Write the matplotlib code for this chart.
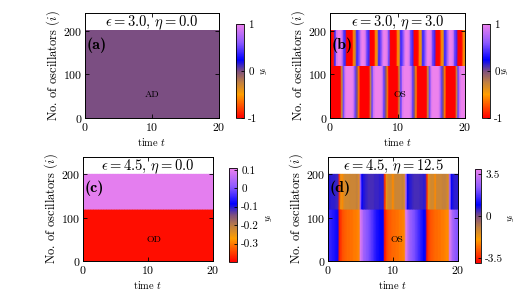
import numpy as np
import matplotlib
matplotlib.use("Agg")
import matplotlib.pyplot as plt
from matplotlib.colors import LinearSegmentedColormap, Normalize

plt.rcParams["font.family"] = "cmr10"
plt.rcParams["mathtext.fontset"] = "cm"
plt.rcParams["axes.unicode_minus"] = False
plt.rcParams["axes.formatter.use_mathtext"] = True

# time grid (step 0.25) and cluster boundaries
t = np.linspace(0, 20, 81)
split = 120
n_osc = 200

# (a) amplitude death: everything at 0
a_val = 0.0

# (b) two clusters oscillating
b_lower = [-1, -1, -1, -1, -1, -1, -1, -0.3,
           0.5, 0.9, 1, 1, 1, 1, 0.9, 0.5,
           0, -0.6, -1, -1, -1, -1, -1, -1,
           -0.3, 0.5, 0.9, 1, 1, 1, 1, 0.9,
           0.5, 0, -0.6, -1, -1, -1, -1, -1,
           -1, -0.3, 0.5, 0.9, 1, 1, 1, 1,
           0.9, 0.5, 0, -0.6, -1, -1, -1, -1,
           -1, -1, -0.3, 0.5, 0.9, 1, 1, 1,
           1, 0.9, 0.5, 0, -0.6, -1, -1, -1,
           -1, -1, -1, -0.3, 0.5, 0.9, 1, 1,
           1]
b_upper = [-1, -1, -0.9, 0.4, 0.9, 1, 1, 0.9,
           0.5, 0.4, -1, -1, -1, -1, -0.6, -0.3,
           0.4, 0.5, 0.8, 1, 1, 0.9, 0.5, 0.4,
           -1, -1, -1, -0.6, -0.4, 0.4, 0.5, 0.8,
           1, 1, 0.9, 0.5, -1, -1, -1, -1,
           -0.6, -0.4, 0.4, 0.5, 0.8, 1, 1, 0.9,
           0.5, 0.4, -1, -1, -1, -0.6, -0.4, 0.4,
           0.5, 0.8, 1, 1, 0.9, 0.5, 0.4, -1,
           -1, -1, -0.6, -0.4, 0.4, 0.5, 0.8, 1,
           1, 0.9, 0.5, 0.4, -1, -1, -1, -0.6,
           -0.4]

# (c) oscillation death: two fixed branches
c_lower = -0.39
c_upper = 0.1

# (d) two clusters, large amplitude
d_lower = [1.6, 1.5, 1.4, 1.3, 1.2, 1.1, 1.0, -3.6,
           -3.2, -2.9, -2.8, -2.7, -2.6, -2.6, -2.5, -2.5,
           -2.4, -2.4, -2.3, -2.2, 3.6, 3.2, 2.7, 2.5,
           2.3, 2.2, 2.0, 1.8, 1.6, 1.4, 1.2, 1.1,
           1.0, 0.9, 0.9, -3.6, -3.2, -2.9, -2.8, -2.7,
           -2.6, -2.6, -2.5, -2.5, -2.4, -2.4, -2.3, -2.2,
           3.6, 3.2, 2.7, 2.5, 2.3, 2.2, 2.0, 1.8,
           1.6, 1.4, 1.2, 1.0, 0.9, -3.6, -3.2, -2.9,
           -2.8, -2.7, -2.6, -2.6, -2.5, -2.5, -2.4, -2.4,
           -2.3, -2.2, -2.2, 3.6, 3.2, 2.7, 2.5, 2.3,
           2.2]
d_upper = [0.7, 0.7, 0.6, 0.6, 0.6, 0.5, 0.5, -3.3,
           -1.6, -2.2, -1.3, -1.2, -1.2, -1.2, -1.1, -1.1,
           -1.1, -1.1, -1.0, -1.4, 2.8, 0.9, 0.7, 0.6,
           0.5, 0.4, 0.4, 0.4, 0.4, 0.5, 0.5, 0.5,
           0.6, 0.6, 0.6, -3.3, -1.6, -1.3, -1.2, -1.2,
           -2.2, -1.2, -1.1, -1.1, -1.1, -1.1, -1.0, -1.4,
           2.8, 0.9, 0.7, 0.6, 0.5, 0.4, 0.4, 0.4,
           0.4, 0.5, 0.5, 0.6, 0.6, -3.3, -1.6, -1.3,
           -1.2, -1.2, -2.2, -1.1, -1.1, -1.1, -1.1, -1.0,
           -1.0, -1.1, -1.4, 2.8, 0.9, 0.7, 0.6, 0.6,
           0.6]

titles = [r"$\epsilon = 3.0,\, \eta = 0.0$", r"$\epsilon = 3.0,\, \eta = 3.0$",
          r"$\epsilon = 4.5,\, \eta = 0.0$", r"$\epsilon = 4.5,\, \eta = 12.5$"]
tags = ["(a)", "(b)", "(c)", "(d)"]
states = ["AD", "OS", "OD", "OS"]
cb_ranges = [(-1, 1), (-1, 1), (-0.4, 0.11), (-3.9, 3.9)]
cb_ticks = [[-1, 0, 1], [-1, 0, 1], [-0.3, -0.2, -0.1, 0, 0.1], [-3.5, 0, 3.5]]
cb_labels = [["-1", "0", "1"], ["-1", "0", "1"],
             ["-0.3", "-0.2", "-0.1", "0", "0.1"], ["-3.5", "0", "3.5"]]

cmap = LinearSegmentedColormap.from_list("pal", [
    (0.00, (1.0, 0.0, 0.0)),
    (0.12, (1.0, 0.30, 0.0)),
    (0.25, (1.0, 0.62, 0.0)),
    (0.38, (0.75, 0.50, 0.26)),
    (0.50, (0.49, 0.31, 0.50)),
    (0.62, (0.0, 0.0, 1.0)),
    (0.80, (0.55, 0.35, 1.0)),
    (1.00, (0.93, 0.51, 0.93))])

W, H = 518, 298
fig = plt.figure(figsize=(W / 100, H / 100), dpi=100)

def box(l, tp, r, b):
    return fig.add_axes([l / W, 1 - b / H, (r - l) / W, (b - tp) / H])

ax_px = [(85, 13, 219, 118), (330, 13, 465, 118), (83, 157, 213, 261), (328, 157, 458, 261)]
cb_px = [(236, 24, 244, 118), (482, 24, 490, 118), (229, 168, 237, 262), (475, 169, 481, 263)]
lab_px = [(264, 71), (505, 71), (269, 218), (511, 218)]
state_pos = [(10, 53), (10.3, 53), (10.9, 48), (10.6, 48)]

lowers = [np.full(t.size, a_val), np.array(b_lower), np.full(t.size, c_lower), np.array(d_lower)]
uppers = [np.full(t.size, a_val), np.array(b_upper), np.full(t.size, c_upper), np.array(d_upper)]

for k in range(4):
    ax = box(*ax_px[k])
    norm = Normalize(*cb_ranges[k])
    m = ax.pcolormesh(t, [0, split], np.vstack([lowers[k], lowers[k]]),
                      cmap=cmap, norm=norm, shading="gouraud")
    ax.pcolormesh(t, [split, n_osc], np.vstack([uppers[k], uppers[k]]),
                  cmap=cmap, norm=norm, shading="gouraud")
    ax.set_xlim(0, 20)
    ax.set_ylim(0, 240)
    ax.set_xticks([0, 10, 20])
    ax.set_yticks([0, 100, 200])
    ax.tick_params(direction="in", top=True, right=True, length=3,
                   width=0.6, labelsize=8.5, pad=2)
    for s in ax.spines.values():
        s.set_linewidth(0.7)
    ax.set_xlabel(r"time $t$", fontsize=7.5, labelpad=2)
    ax.set_ylabel(r"No. of oscillators $(i)$", fontsize=9, labelpad=1)
    ax.text(10, 218, titles[k], ha="center", va="center", fontsize=10.5)
    ax.text(0.2, 167, tags[k], ha="left", va="center", fontsize=11.5, family="cmb10")
    ax.text(*state_pos[k], states[k], ha="center", va="center", fontsize=7)

    cax = box(*cb_px[k])
    cb = fig.colorbar(m, cax=cax)
    cb.set_ticks(cb_ticks[k])
    cb.set_ticklabels(cb_labels[k])
    cb.outline.set_linewidth(0.6)
    cax.tick_params(direction="in", length=2, width=0.6, labelsize=8, pad=3)
    fig.text(lab_px[k][0] / W, 1 - lab_px[k][1] / H, r"$y_i$", rotation=90,
             ha="center", va="center", fontsize=7)

fig.savefig("out.png", dpi=100)
